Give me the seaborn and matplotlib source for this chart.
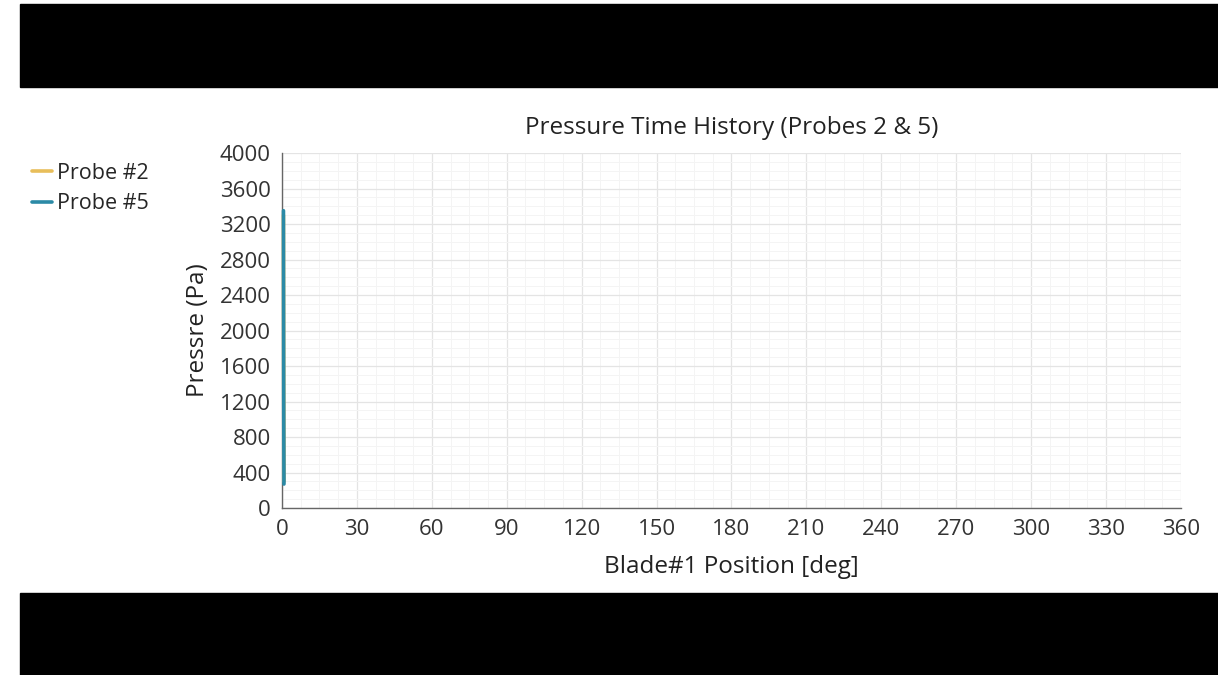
import pandas as pd
import matplotlib.pyplot as plt
import seaborn as sns
from matplotlib.patches import Rectangle
from matplotlib.ticker import MultipleLocator

# data: both probes only have samples right at the start
angle = [0.6, 0.7, 0.8]
probe2 = [3300, 1600, 300]
probe5 = [3350, 1250, 270]

df = pd.DataFrame({
    "angle": angle * 2,
    "pressure": probe2 + probe5,
    "probe": ["Probe #2"] * len(angle) + ["Probe #5"] * len(angle),
})

sns.set_style("white")
plt.rcParams["font.family"] = ["Open Sans", "DejaVu Sans"]

fig = plt.figure(figsize=(12.18, 6.75), dpi=100)
ax = fig.add_axes([0.2315, 0.2474, 0.7381, 0.5259])

sns.lineplot(data=df, x="angle", y="pressure", hue="probe",
             palette={"Probe #2": "#e8be5a", "Probe #5": "#2b8aa6"},
             linewidth=2.6, sort=False, estimator=None, ax=ax)
for ln in ax.lines:
    ln.set_zorder(4)
    ln.set_clip_on(False)

ax.set_xlim(0, 360)
ax.set_ylim(0, 4000)
ax.xaxis.set_major_locator(MultipleLocator(30))
ax.xaxis.set_minor_locator(MultipleLocator(7.5))
ax.yaxis.set_major_locator(MultipleLocator(400))
ax.yaxis.set_minor_locator(MultipleLocator(100))
ax.grid(which="major", color="#e4e4e4", linewidth=0.9)
ax.grid(which="minor", color="#f4f4f4", linewidth=0.7)
ax.set_axisbelow(True)

for s in ["top", "right"]:
    ax.spines[s].set_visible(False)
for s in ["left", "bottom"]:
    ax.spines[s].set_color("#666666")
    ax.spines[s].set_linewidth(1.0)

ax.tick_params(which="major", direction="out", length=5, width=1,
               color="#666666", labelsize=16, labelcolor="#333333", pad=3)
ax.tick_params(which="minor", direction="inout", length=4, width=0.8,
               color="#666666")

ax.set_title("Pressure Time History (Probes 2 & 5)", fontsize=17.5,
             color="#222222", pad=14)
ax.set_xlabel("Blade#1 Position [deg]", fontsize=17.5, color="#222222",
              labelpad=11)
ax.set_ylabel("Pressre (Pa)", fontsize=17.5, color="#222222", labelpad=7)

handles, labels = ax.get_legend_handles_labels()
ax.get_legend().remove()
fig.legend(handles, labels, loc="upper left", bbox_to_anchor=(0.019, 0.772),
           frameon=False, fontsize=15.5, handlelength=0.95, handletextpad=0.2,
           labelspacing=0.45, borderaxespad=0)

# letterbox bars
fig.patches.append(Rectangle((20 / 1218, 1 - 87 / 675), 1, 83 / 675,
                             transform=fig.transFigure, color="black",
                             zorder=-1))
fig.patches.append(Rectangle((20 / 1218, 0), 1, 82 / 675,
                             transform=fig.transFigure, color="black",
                             zorder=-1))

fig.savefig("out.png", dpi=100)
plt.close(fig)
